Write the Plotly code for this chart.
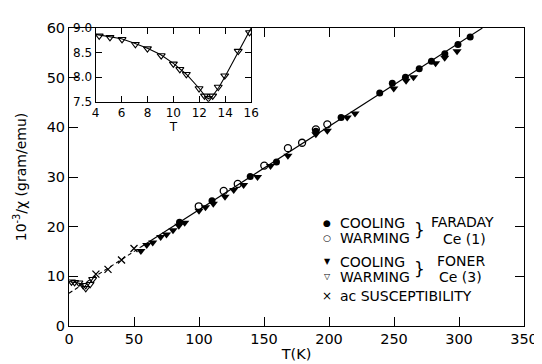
import plotly.graph_objects as go

# ---------------- data ----------------
faraday_cool_T = [85, 110, 139.4, 159.6, 189.9, 209.3, 239, 248.7, 258.8, 269.4, 278.8, 289.1, 299.2, 308.6]
faraday_cool_y = [20.9, 25.2, 30.1, 33.0, 39.2, 42.0, 46.9, 48.9, 50.1, 51.8, 53.3, 54.8, 56.7, 58.2]

faraday_warm_T = [99.8, 119, 129.8, 150.2, 168.4, 179.3, 189.9, 198.7]
faraday_warm_y = [24.1, 27.2, 28.6, 32.3, 35.8, 36.9, 39.6, 40.6]

foner_cool_T = [55.3, 59.8, 64.4, 70.5, 75, 80, 84.5, 89, 100, 105, 111, 120, 126.7, 134.3,
                145, 155, 168.4, 189.9, 198.7, 214, 220, 249.8, 259.3, 265, 282, 289, 298.5]
foner_cool_y = [15.1, 16.3, 16.8, 17.9, 18.4, 19.3, 20.2, 20.8, 23.2, 23.9, 24.6, 26.0, 27.4, 28.4,
                30.0, 32.2, 34.3, 38.6, 39.3, 42.0, 42.8, 47.8, 49.4, 50.1, 52.9, 54.0, 55.3]

ac_T = [20.7, 30, 40.4, 50]
ac_y = [10.45, 11.4, 13.3, 15.6]

# Foner warming, low-T points as drawn in the main panel
main_warm_T = [1.9, 4.3, 7.6, 10.8, 12.9, 16.2, 18.2]
main_warm_y = [8.9, 8.8, 8.7, 8.2, 7.6, 8.4, 9.4]
main_curve_T = [0, 4, 8, 11, 12.9, 15, 18, 20]
main_curve_y = [8.95, 8.85, 8.6, 8.1, 7.5, 8.3, 9.6, 10.2]

# Foner warming (inset)
foner_warm_T = [4.28, 5.11, 6.04, 7.07, 8.0, 9.06, 10.0, 10.5, 11.0, 11.98, 12.40, 12.70, 13.03, 13.46, 13.96, 15.0, 15.87]
foner_warm_y = [8.84, 8.81, 8.77, 8.67, 8.58, 8.44, 8.27, 8.16, 8.06, 7.77, 7.62, 7.57, 7.62, 7.80, 8.03, 8.53, 8.91]

# smooth curve through the inset data
curve_T = [4, 5, 6, 7, 8, 9, 10, 11, 12, 12.4, 12.7, 13.0, 13.5, 14, 15, 16]
curve_y = [8.87, 8.83, 8.78, 8.69, 8.59, 8.46, 8.28, 8.06, 7.77, 7.63, 7.56, 7.61, 7.79, 8.02, 8.51, 9.0]

# Curie-Weiss fit line (dashed part and solid part)
fit_dash_T = [0, 55]
fit_dash_y = [6.6, 15.84]
fit_solid_T = [55, 318]
fit_solid_y = [15.84, 60.0]

main_xticks = [0, 50, 100, 150, 200, 250, 300, 350]
main_top_ticks = [150, 200, 250, 300]
main_yticks = [0, 10, 20, 30, 40, 50, 60]
inset_xticks = [4, 6, 8, 10, 12, 14, 16]
inset_yticks = [7.5, 8.0, 8.5, 9.0]

# ---------------- figure ----------------
FONT = "DejaVu Sans"
fig = go.Figure()

line_style = dict(color="black", width=1.1)

fig.add_trace(go.Scatter(x=fit_dash_T, y=fit_dash_y, mode="lines",
                         line=dict(color="black", width=1.1, dash="4px,3px"), showlegend=False))
fig.add_trace(go.Scatter(x=fit_solid_T, y=fit_solid_y, mode="lines", line=line_style, showlegend=False))
fig.add_trace(go.Scatter(x=main_curve_T, y=main_curve_y, mode="lines", line=line_style, showlegend=False))

fig.add_trace(go.Scatter(x=foner_cool_T, y=foner_cool_y, mode="markers", showlegend=False,
                         marker=dict(symbol="triangle-down", size=8, color="black")))
fig.add_trace(go.Scatter(x=faraday_warm_T, y=faraday_warm_y, mode="markers", showlegend=False,
                         marker=dict(symbol="circle-open", size=7, color="black", line=dict(width=1.3))))
fig.add_trace(go.Scatter(x=faraday_cool_T, y=faraday_cool_y, mode="markers", showlegend=False,
                         marker=dict(symbol="circle", size=7, color="black")))
fig.add_trace(go.Scatter(x=ac_T, y=ac_y, mode="markers", showlegend=False,
                         marker=dict(symbol="x-thin", size=7, color="black", line=dict(width=1.3, color="black"))))
fig.add_trace(go.Scatter(x=main_warm_T, y=main_warm_y, mode="markers", showlegend=False,
                         marker=dict(symbol="triangle-down-open", size=7, color="black", line=dict(width=1.1))))

# top-ticks helper axis
fig.add_trace(go.Scatter(x=[0], y=[0], xaxis="x3", yaxis="y", mode="markers",
                         marker=dict(size=1, opacity=0), showlegend=False, hoverinfo="skip"))

# inset
fig.add_trace(go.Scatter(x=curve_T, y=curve_y, mode="lines", line=line_style,
                         xaxis="x2", yaxis="y2", showlegend=False))
fig.add_trace(go.Scatter(x=foner_warm_T, y=foner_warm_y, mode="markers", xaxis="x2", yaxis="y2",
                         showlegend=False,
                         marker=dict(symbol="triangle-down-open", size=7, color="black", line=dict(width=1.1))))

axis_common = dict(showgrid=False, zeroline=False, showline=True, linecolor="black", linewidth=1,
                   ticks="inside", tickcolor="black", tickwidth=1)

fig.update_layout(
    width=542, height=364,
    margin=dict(l=61, r=19, t=15, b=34),
    paper_bgcolor="white", plot_bgcolor="white",
    font=dict(family=FONT, color="black"),
    xaxis=dict(**axis_common, range=[0, 350], tickvals=main_xticks, ticklen=9, mirror=False,
               tickfont=dict(size=14.5),
               title=dict(text="T(K)", font=dict(size=14.5), standoff=2)),
    xaxis3=dict(**axis_common, range=[0, 350], tickvals=main_top_ticks, ticklen=9, overlaying="x",
                side="top", anchor="y", showticklabels=False),
    yaxis=dict(**axis_common, range=[0, 60], tickvals=main_yticks, ticklen=9, mirror="ticks",
               tickfont=dict(size=14.5),
               title=dict(text="10<sup>-3</sup>/χ (gram/emu)", font=dict(size=14), standoff=16)),
    xaxis2=dict(**axis_common, domain=[0.0584, 0.4004], anchor="y2", range=[4, 16],
                tickvals=inset_xticks, ticklen=6, mirror="ticks", tickfont=dict(size=12),
                title=dict(text="T", font=dict(size=12), standoff=1)),
    yaxis2=dict(**axis_common, domain=[0.7524, 1.0], anchor="x2", range=[7.5, 9.0],
                tickvals=inset_yticks, tickformat=".1f", ticklen=6, mirror="ticks",
                tickfont=dict(size=12)),
)

# ---------------- legend as annotations ----------------
def px_x(p):
    return (p - 61) / 462.0

def px_y(p):
    return (330 - p) / 315.0

LF = 14
rows = [
    ("●", 9, "COOLING", 221),
    ("○", 9, "WARMING", 237),
    ("▼", 8, "COOLING", 262),
    ("▽", 8, "WARMING", 278),
    ("×", 12, "ac SUSCEPTIBILITY", 298),
]
for sym, ssize, txt, yy in rows:
    fig.add_annotation(x=px_x(323), y=px_y(yy), xref="paper", yref="paper", text=sym,
                       showarrow=False, xanchor="center", yanchor="middle", font=dict(size=ssize))
    fig.add_annotation(x=px_x(334), y=px_y(yy), xref="paper", yref="paper", text=txt,
                       showarrow=False, xanchor="left", yanchor="middle", font=dict(size=LF))

for yy in (229, 270):
    fig.add_annotation(x=px_x(417), y=px_y(yy), xref="paper", yref="paper", text="}",
                       showarrow=False, xanchor="center", yanchor="middle",
                       font=dict(size=17, family="DejaVu Sans"))

fig.add_annotation(x=px_x(427), y=px_y(220), xref="paper", yref="paper", text="FARADAY",
                   showarrow=False, xanchor="left", yanchor="middle", font=dict(size=LF))
fig.add_annotation(x=px_x(463), y=px_y(238), xref="paper", yref="paper", text="Ce (1)",
                   showarrow=False, xanchor="center", yanchor="middle", font=dict(size=LF))
fig.add_annotation(x=px_x(433), y=px_y(261), xref="paper", yref="paper", text="FONER",
                   showarrow=False, xanchor="left", yanchor="middle", font=dict(size=LF))
fig.add_annotation(x=px_x(459), y=px_y(278), xref="paper", yref="paper", text="Ce (3)",
                   showarrow=False, xanchor="center", yanchor="middle", font=dict(size=LF))

fig.write_html("out.html")
